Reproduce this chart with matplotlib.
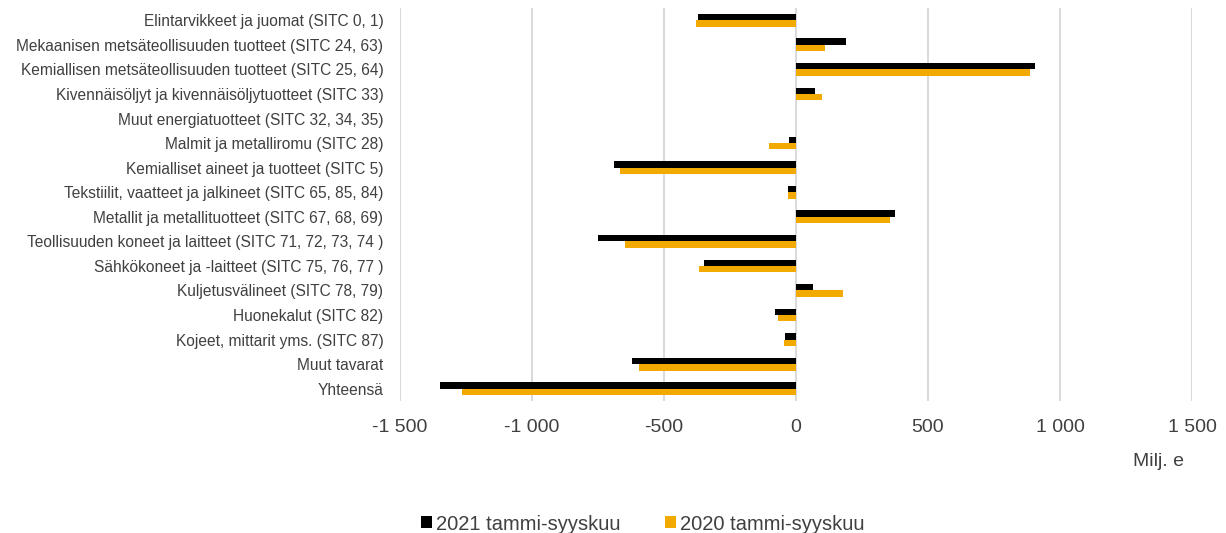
import matplotlib
matplotlib.use("Agg")
import matplotlib.pyplot as plt
import numpy as np

categories = [
    "Elintarvikkeet ja juomat (SITC 0, 1)",
    "Mekaanisen metsäteollisuuden tuotteet (SITC 24, 63)",
    "Kemiallisen metsäteollisuuden tuotteet (SITC 25, 64)",
    "Kivennäisöljyt ja kivennäisöljytuotteet (SITC 33)",
    "Muut energiatuotteet (SITC 32, 34, 35)",
    "Malmit ja metalliromu (SITC 28)",
    "Kemialliset aineet ja tuotteet (SITC 5)",
    "Tekstiilit, vaatteet ja jalkineet (SITC 65, 85, 84)",
    "Metallit ja metallituotteet (SITC 67, 68, 69)",
    "Teollisuuden koneet ja laitteet (SITC 71, 72, 73, 74 )",
    "Sähkökoneet ja -laitteet (SITC 75, 76, 77 )",
    "Kuljetusvälineet (SITC 78, 79)",
    "Huonekalut (SITC 82)",
    "Kojeet, mittarit yms. (SITC 87)",
    "Muut tavarat",
    "Yhteensä",
]
values_2021 = [-373, 188, 906, 71, 0, -28, -690, -29, 374, -749, -347, 63, -78, -41, -622, -1349]
values_2020 = [-378, 108, 885, 100, 0, -104, -666, -29, 357, -647, -369, 179, -70, -46, -595, -1266]
series_names = ["2021 tammi-syyskuu", "2020 tammi-syyskuu"]
xticks = [-1500, -1000, -500, 0, 500, 1000, 1500]
xtick_labels = ["-1 500", "-1 000", "-500", "0", "500", "1 000", "1 500"]

plt.rcParams['font.family'] = ['Liberation Sans', 'DejaVu Sans']

fig = plt.figure(figsize=(12.26, 5.33), dpi=100)
ax = fig.add_axes([400/1226, 1-401/533, (1192-400)/1226, (401-8)/533])

y = np.arange(len(categories))
h = 0.26
ax.barh(y - h/2, values_2021, height=h, color='#000000', label=series_names[0], zorder=3)
ax.barh(y + h/2, values_2020, height=h, color='#F2A900', label=series_names[1], zorder=3)

ax.set_xlim(-1500, 1500)
ax.set_ylim(len(categories) - 0.5, -0.5)
ax.set_xticks(xticks)
ax.set_xticklabels(xtick_labels)
ax.set_yticks(y)
ax.set_yticklabels(categories)
ax.tick_params(axis='y', length=0, pad=12, labelsize=11.2, labelcolor='#404040')
ax.tick_params(axis='x', length=0, pad=13, labelsize=14, labelcolor='#404040')
ax.grid(axis='x', color='#D9D9D9', linewidth=1.4, zorder=0)
ax.set_axisbelow(True)
for s in ax.spines.values():
    s.set_visible(False)

fig.text(1184/1226, 1-461/533, "Milj. e", ha='right', va='center', fontsize=14, color='#404040')

leg = fig.legend(loc='center', bbox_to_anchor=(643/1226, 1-524/533), ncol=2, frameon=False,
                 fontsize=14.5, handlelength=0.55, handleheight=0.55, handletextpad=0.2,
                 columnspacing=2.2, labelcolor='#404040')

fig.savefig("out.png", dpi=100)
